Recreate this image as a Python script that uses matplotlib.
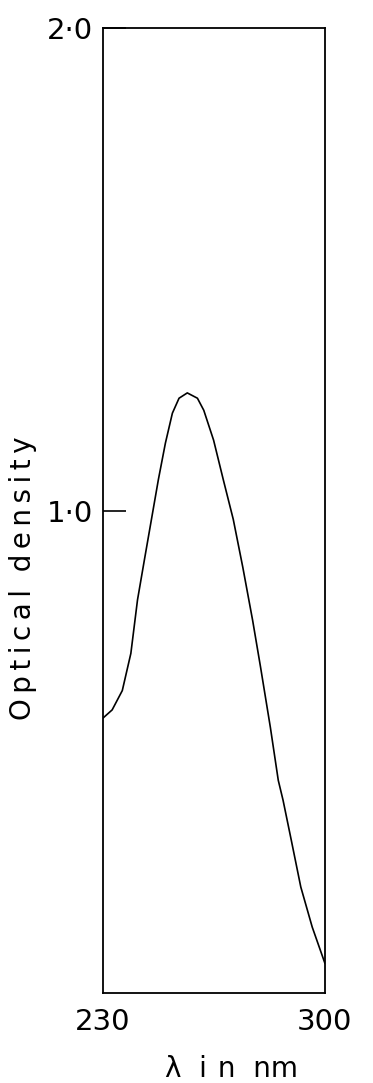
import matplotlib
matplotlib.use("Agg")
import matplotlib.pyplot as plt

# Spectrum
wavelength = [230.0, 232.9, 236.1, 238.8, 240.9, 243.1, 245.3, 247.5, 249.7,
              251.9, 254.0, 256.6, 259.8, 261.8, 264.9, 268.0, 271.1, 274.1,
              277.2, 279.7, 282.8, 285.3, 286.8, 289.4, 292.4, 296.0, 300.0]
optical_density = [0.570, 0.587, 0.627, 0.704, 0.815, 0.899, 0.982, 1.065, 1.140,
                   1.202, 1.233, 1.244, 1.233, 1.208, 1.146, 1.063, 0.982, 0.883,
                   0.773, 0.676, 0.551, 0.441, 0.400, 0.317, 0.220, 0.137, 0.062]

y_ticks = [1.0, 2.0]
y_tick_labels = ["1·0", "2·0"]
x_ticks = [230, 300]
x_tick_labels = ["230", "300"]

fig = plt.figure(figsize=(3.73, 10.83), dpi=100)
ax = fig.add_axes([0.276, 0.083, 0.595, 0.891])

ax.plot(wavelength, optical_density, color="black", linewidth=1.2,
        solid_joinstyle="round")

ax.set_xlim(230, 300)
ax.set_ylim(0, 2.0)

for s in ax.spines.values():
    s.set_linewidth(1.3)
    s.set_color("black")

ax.set_yticks(y_ticks)
ax.set_yticklabels(y_tick_labels)
ax.set_xticks(x_ticks)
ax.set_xticklabels(x_tick_labels)
ax.tick_params(axis="y", direction="in", length=16.5, width=1.2, pad=7, labelsize=21)
ax.tick_params(axis="x", length=0, pad=11, labelsize=21)

# spaced-out lettering like the original
ts = "\u2009"
ylab = ts.join("Optical") + "  " + ts.join("density")
ax.set_ylabel(ylab, fontsize=20, va="center")
ax.yaxis.set_label_coords(-0.36, 0.43)
ax.set_xlabel("λ  i" + ts + ts + "n  nm", fontsize=20, va="center")
ax.xaxis.set_label_coords(0.577, -0.079)

fig.savefig("out.png", dpi=100)
